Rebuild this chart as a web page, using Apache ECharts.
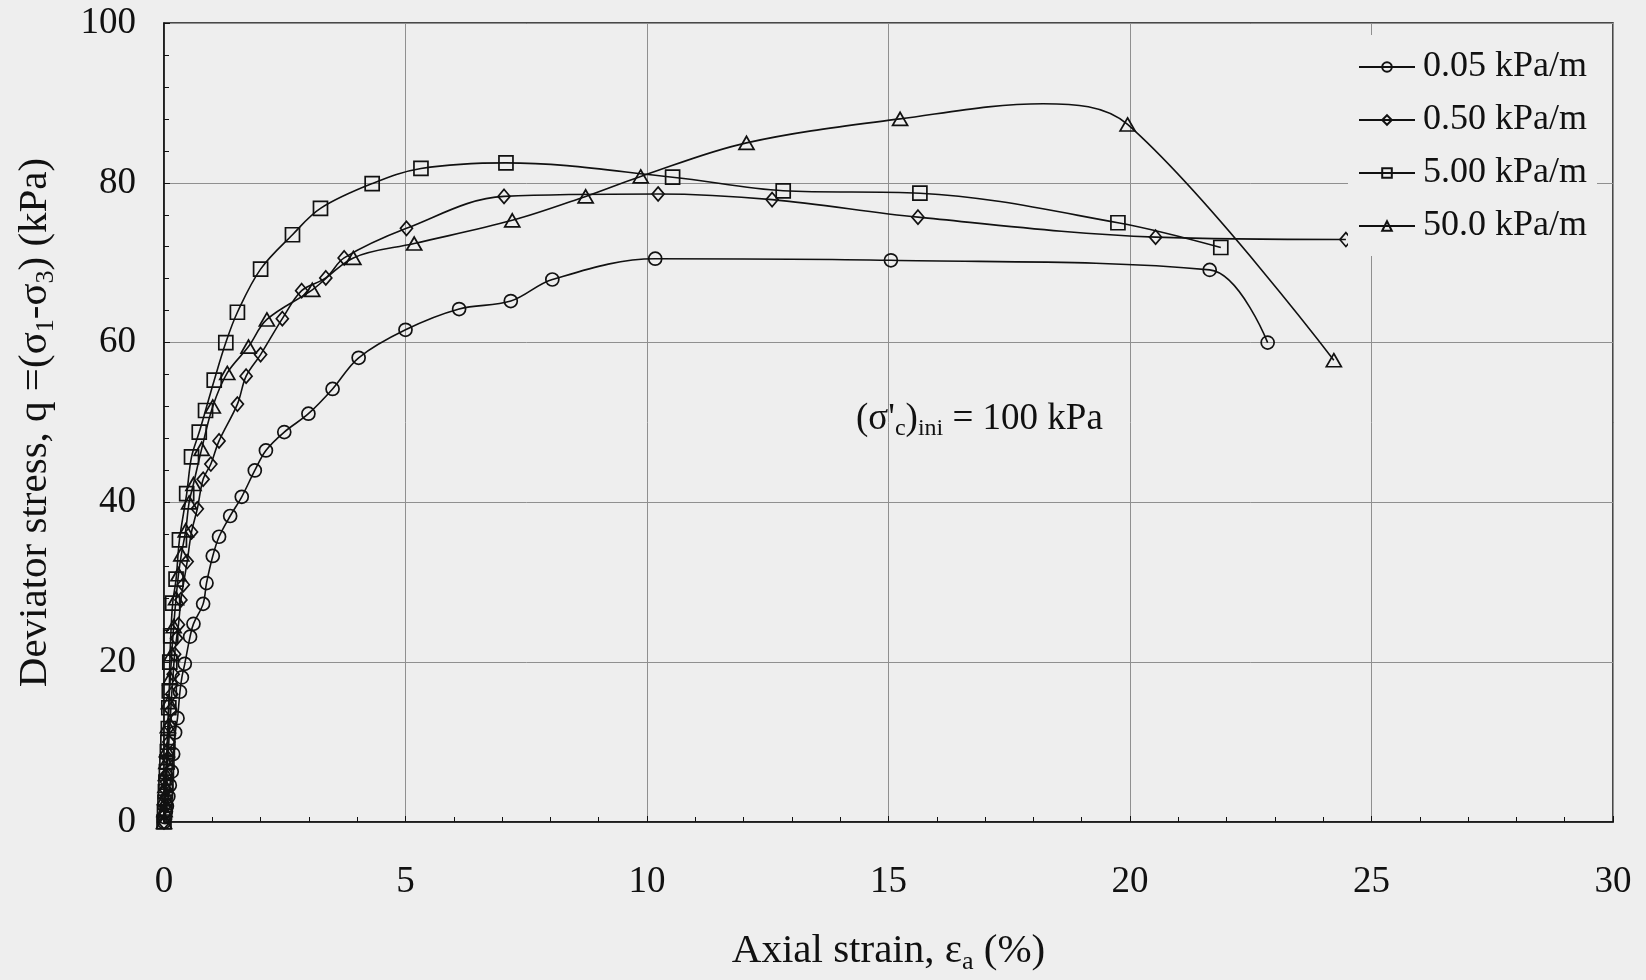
<!DOCTYPE html>
<html>
<head>
<meta charset="utf-8">
<title>Deviator stress vs axial strain</title>
<script src="https://cdn.jsdelivr.net/npm/echarts@6/dist/echarts.min.js"></script>
<style>
  html, body { margin: 0; padding: 0; background: #eeeeee; }
  #myecharts { width: 1646px; height: 980px; }
</style>
</head>
<body>
<div id="myecharts"></div>
<script>
// legend names
var NAMES = ['0.05 kPa/m', '0.50 kPa/m', '5.00 kPa/m', '50.0 kPa/m'];

// 0.05 kPa/m (circles)
var STRAIN_005 = [0, 0.02, 0.04, 0.06, 0.09, 0.12, 0.16, 0.19, 0.23, 0.28, 0.33, 0.37, 0.43, 0.54, 0.61, 0.81, 0.88, 1.01, 1.14, 1.37, 1.61, 1.88, 2.11, 2.49, 2.99, 3.49, 4.03, 5.0, 6.11, 7.18, 8.04, 10.17, 15.05, 21.65, 22.85];
var Q_005 = [0, 0.6, 1.3, 2.0, 3.2, 4.6, 6.3, 8.5, 11.2, 13.0, 16.3, 18.1, 19.8, 23.2, 24.8, 27.3, 29.9, 33.3, 35.7, 38.3, 40.7, 44.0, 46.5, 48.8, 51.1, 54.2, 58.1, 61.6, 64.2, 65.2, 67.9, 70.5, 70.3, 69.1, 60.0];

// 0.50 kPa/m (diamonds)
var STRAIN_050 = [0, 0.01, 0.02, 0.03, 0.04, 0.05, 0.06, 0.08, 0.1, 0.12, 0.14, 0.16, 0.19, 0.22, 0.26, 0.3, 0.35, 0.4, 0.48, 0.57, 0.69, 0.81, 0.97, 1.14, 1.52, 1.7, 2.0, 2.45, 2.85, 3.35, 3.73, 5.02, 7.04, 10.23, 12.59, 15.61, 20.53, 24.47];
var Q_050 = [0, 1, 2, 3, 4, 5, 6, 8, 10, 12, 14, 16, 18.5, 21, 23, 24.7, 27.8, 29.7, 32.6, 36.3, 39.2, 42.9, 44.8, 47.7, 52.3, 55.8, 58.5, 63.0, 66.5, 68.1, 70.6, 74.3, 78.3, 78.6, 77.9, 75.7, 73.2, 72.9];

// 5.00 kPa/m (squares)
var STRAIN_500 = [0, 0.01, 0.02, 0.03, 0.04, 0.05, 0.06, 0.07, 0.08, 0.09, 0.1, 0.11, 0.12, 0.14, 0.18, 0.25, 0.32, 0.47, 0.57, 0.73, 0.86, 1.04, 1.28, 1.52, 2.0, 2.66, 3.24, 4.31, 5.32, 7.08, 10.53, 12.82, 15.65, 19.75, 21.88];
var Q_500 = [0, 1.2, 2.5, 3.8, 5, 6.3, 7.5, 8.8, 10, 11.7, 14.3, 16.4, 20.0, 23.3, 27.4, 30.4, 35.3, 41.1, 45.7, 48.8, 51.5, 55.3, 60.0, 63.8, 69.2, 73.5, 76.8, 79.9, 81.8, 82.5, 80.7, 79.0, 78.7, 75.0, 71.9];

// 50.0 kPa/m (triangles); the 18.2 % point is the top of the drawn curve, no marker there
var STRAIN_5000 = [0, 0.01, 0.02, 0.03, 0.04, 0.05, 0.06, 0.08, 0.1, 0.13, 0.16, 0.2, 0.25, 0.3, 0.36, 0.45, 0.52, 0.61, 0.78, 1.01, 1.31, 1.75, 2.13, 3.07, 3.92, 5.18, 7.21, 8.73, 9.87, 12.06, 15.24, 18.2, 19.95, 24.22];
var Q_5000 = [0, 1.5, 3, 4.5, 6, 7.5, 9, 12, 15, 18, 21, 24.5, 28, 31, 33.5, 36.5, 40.0, 42.3, 46.7, 52.0, 56.2, 59.5, 62.9, 66.6, 70.6, 72.4, 75.3, 78.3, 80.8, 85.0, 88.0, 89.9, 87.3, 57.8];
var CURVE_ONLY_5000 = [18.2];

var SYMBOLS = ['circle', 'diamond', 'rect', 'triangle'];
var SYMBOL_SIZES = [13, [12, 14], 14, [15, 13]];

var FONT = '"Liberation Serif", "Times New Roman", serif';
var INK = '#111111';

function pairs(xs, ys, noMarker) {
    var out = [];
    for (var i = 0; i < xs.length; i++) {
        if (noMarker && noMarker.indexOf(xs[i]) >= 0) {
            out.push({ value: [xs[i], ys[i]], symbol: 'none' });
        } else {
            out.push([xs[i], ys[i]]);
        }
    }
    return out;
}

var ALL = [
    pairs(STRAIN_005, Q_005),
    pairs(STRAIN_050, Q_050),
    pairs(STRAIN_500, Q_500),
    pairs(STRAIN_5000, Q_5000, CURVE_ONLY_5000)
];

var series = [];
for (var i = 0; i < ALL.length; i++) {
    series.push({
        name: NAMES[i],
        type: 'line',
        data: ALL[i],
        smooth: 0.35,
        symbol: SYMBOLS[i],
        symbolSize: SYMBOL_SIZES[i],
        showAllSymbol: true,
        lineStyle: { color: INK, width: 1.6 },
        itemStyle: { color: 'rgba(0,0,0,0)', borderColor: INK, borderWidth: 1.7 },
        emphasis: { disabled: true },
        z: 3
    });
}

var subStyle = { fontFamily: FONT, fontSize: 26, lineHeight: 26, verticalAlign: 'bottom', color: INK };

var option = {
    backgroundColor: '#eeeeee',
    animation: false,
    textStyle: { fontFamily: FONT, color: INK },
    grid: {
        left: 164,
        right: 33,
        top: 23,
        bottom: 153,
        show: true,
        borderColor: INK,
        borderWidth: 1.5,
        backgroundColor: 'transparent'
    },
    legend: {
        orient: 'vertical',
        left: 1348,
        top: 35,
        padding: [14, 10, 12, 10],
        itemGap: 17,
        itemWidth: 56,
        itemHeight: 12,
        backgroundColor: '#eeeeee',
        data: NAMES,
        textStyle: { fontFamily: FONT, fontSize: 36, color: INK, padding: [0, 0, 0, 3] },
        z: 5
    },
    xAxis: {
        type: 'value',
        min: 0,
        max: 30,
        interval: 5,
        name: 'Axial strain, ε{s|a} (%)',
        nameLocation: 'middle',
        nameGap: 105,
        nameTextStyle: {
            fontFamily: FONT,
            fontSize: 41,
            color: INK,
            lineHeight: 48,
            rich: { s: subStyle }
        },
        axisLine: { show: true, lineStyle: { color: INK, width: 1.5 } },
        axisTick: { show: true, inside: true, length: 6, lineStyle: { color: INK } },
        minorTick: { show: true, splitNumber: 5, length: 5, lineStyle: { color: INK } },
        axisLabel: { fontFamily: FONT, fontSize: 37, color: INK, margin: 42 },
        splitLine: { show: true, lineStyle: { color: '#8f8f8f', width: 1 } }
    },
    yAxis: {
        type: 'value',
        min: 0,
        max: 100,
        interval: 20,
        name: 'Deviator stress, q =(σ{s|1}-σ{s|3}) (kPa)',
        nameLocation: 'middle',
        nameGap: 105,
        nameTextStyle: {
            fontFamily: FONT,
            fontSize: 41,
            color: INK,
            lineHeight: 48,
            rich: { s: subStyle }
        },
        axisLine: { show: true, lineStyle: { color: INK, width: 1.5 } },
        axisTick: { show: true, inside: true, length: 6, lineStyle: { color: INK } },
        minorTick: { show: true, splitNumber: 5, length: 5, lineStyle: { color: INK } },
        axisLabel: { fontFamily: FONT, fontSize: 37, color: INK, margin: 28 },
        splitLine: { show: true, lineStyle: { color: '#8f8f8f', width: 1 } }
    },
    // (σ'c)ini = 100 kPa
    graphic: [{
        type: 'text',
        left: 856,
        top: 397,
        z: 4,
        style: {
            text: "(σ'{s|c}){s|ini} = 100 kPa",
            font: '37px ' + FONT,
            fill: INK,
            lineHeight: 44,
            rich: { s: { fontFamily: FONT, fontSize: 24, lineHeight: 24, verticalAlign: 'bottom', fill: INK } }
        }
    }],
    series: series
};

var dom = document.getElementById('myecharts');
var myChart = echarts.init(dom, null, { renderer: 'canvas' });
myChart.setOption(option, true);
</script>
</body>
</html>
